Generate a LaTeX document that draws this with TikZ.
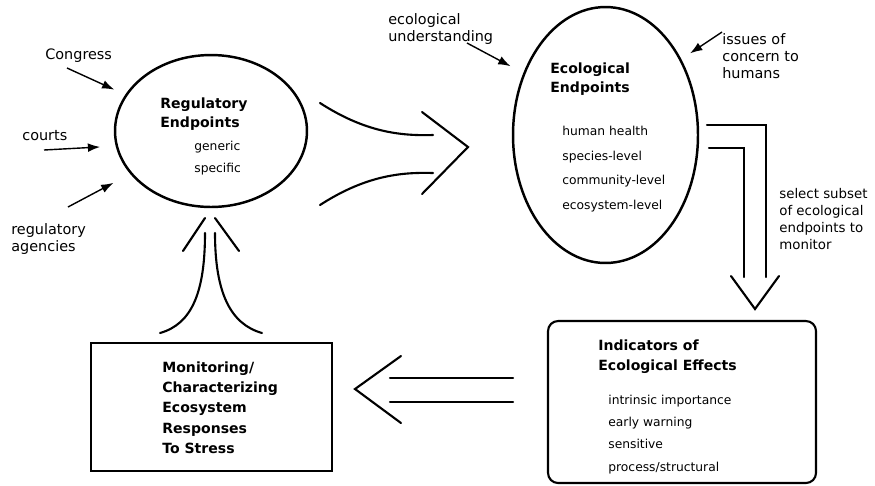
\documentclass[tikz,border=0pt]{standalone}
\usepackage{fontspec}
\setmainfont{DejaVu Sans}
\usetikzlibrary{shapes.geometric,arrows.meta}

\tikzset{
    lbl/.style={anchor=north west, inner sep=0, align=left, font=\fontsize{#1}{9.6}\selectfont},
    lbl/.default=8.2,
    ttl/.style={anchor=north west, inner sep=0, align=left, font=\bfseries\fontsize{8}{#1}\selectfont},
    itm/.style={anchor=north west, inner sep=0, align=left, font=\fontsize{7}{#1}\selectfont},
    feed/.style={-{Latex[length=7pt,width=5pt]}, line width=0.8pt},
    hollow/.style={line width=1.2pt, line cap=round},
}

\begin{document}
\begin{tikzpicture}[x=0.02cm, y=-0.02cm]
        \useasboundingbox (0,0) rectangle (875,485);

        % regulatory endpoints
        \node[draw, ellipse, line width=1.4pt, minimum width=3.84cm, minimum height=3.04cm, inner sep=0] (reg) at (211,131) {};
        \node[ttl=11.3] (regTitle) at (160,97) {Regulatory\\Endpoints};
        \node[itm=12.5] (regItems) at (194,141) {generic\\specific};

        \node[lbl] (congress) at (45,48) {Congress};
        \node[lbl] (courts) at (22,130) {courts};
        \node[lbl] (agencies) at (11,223) {regulatory\\agencies};
        \coordinate (congressTail) at (67,68);
        \coordinate (courtsTail) at (44,150);
        \coordinate (agenciesTail) at (68,207);
        \draw[feed, shorten >=0.24cm] (congressTail) -- (reg.157);
        \draw[feed, shorten >=0.31cm] (courtsTail) -- (reg.189);
        \draw[feed, shorten >=0.38cm] (agenciesTail) -- (reg.208);

        % ecological endpoints
        \node[draw, ellipse, line width=1.4pt, minimum width=3.7cm, minimum height=5.12cm, inner sep=0] (eco) at (605.5,135) {};
        \node[ttl=10.8] (ecoTitle) at (550,62) {Ecological\\Endpoints};
        \node[itm=14] (ecoItems) at (562,126) {human health\\species-level\\community-level\\ecosystem-level};

        \node[lbl] (understanding) at (388,13) {ecological\\understanding};
        \node[lbl] (issues) at (722,33) {issues of\\concern to\\humans};
        \coordinate (understandingTail) at (467,43);
        \coordinate (issuesTail) at (722,32);
        \draw[feed, shorten >=0.29cm] (understandingTail) -- (eco.143);
        \draw[feed, shorten >=0.21cm] (issuesTail) -- (eco.45);

        % indicators
        \node[draw, rounded corners=0.2cm, line width=1.2pt, minimum width=5.36cm, minimum height=3.24cm] (ind) at (682,402) {};
        \node[ttl=11.9] (indTitle) at (598,339) {Indicators of\\Ecological Effects};
        \node[itm=12.6] (indItems) at (608,395) {intrinsic importance\\early warning\\sensitive\\process/structural};

        \node[lbl=7.6] (subset) at (779,188) {select subset\\of ecological\\endpoints to\\monitor};

        % monitoring
        \node[draw, line width=1.2pt, minimum width=4.82cm, minimum height=2.56cm] (mon) at (211.5,407) {};
        \node[ttl=11.6] (monTitle) at (162,361) {Monitoring/\\Characterizing\\Ecosystem\\Responses\\To Stress};

        % reg -> eco
        \draw[hollow] (320,103) .. controls (365,132) and (400,136) .. (433,135);
        \draw[hollow] (320,205) .. controls (365,176) and (400,172) .. (433,173);
        \draw[hollow] (422,112) -- (468,147) -- (422,194);

        % eco -> ind
        \draw[hollow] (707,125) -- (766,125) -- (766,277);
        \draw[hollow] (709,148) -- (744,148) -- (744,277);
        \draw[hollow] (731,276) -- (755,309) -- (779,276);

        % ind -> mon
        \draw[hollow] (513,378) -- (390,378);
        \draw[hollow] (513,402) -- (390,402);
        \draw[hollow] (401,356) -- (355,389) -- (401,423);

        % mon -> reg
        \draw[hollow] (160,333) .. controls (192,324) and (205,292) .. (205,233);
        \draw[hollow] (262,333) .. controls (230,324) and (215,292) .. (215,233);
        \draw[hollow] (183,251) -- (205,218);
        \draw[hollow] (215,218) -- (239,251);
\end{tikzpicture}
\end{document}
